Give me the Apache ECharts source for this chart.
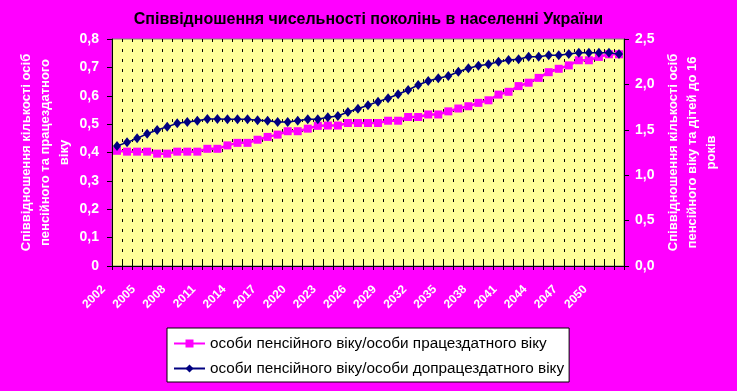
<!DOCTYPE html>
<html>
<head>
<meta charset="utf-8">
<script src="https://cdn.jsdelivr.net/npm/echarts@6/dist/echarts.min.js"></script>
<style>
html,body{margin:0;padding:0;background:#FF00FF;}
#chart{width:737px;height:391px;}
</style>
</head>
<body>
<div id="chart"></div>
<script>
var years = ['2002','2003','2004','2005','2006','2007','2008','2009','2010','2011',
  '2012','2013','2014','2015','2016','2017','2018','2019','2020','2021',
  '2022','2023','2024','2025','2026','2027','2028','2029','2030','2031',
  '2032','2033','2034','2035','2036','2037','2038','2039','2040','2041',
  '2042','2043','2044','2045','2046','2047','2048','2049','2050','2051','2052'];

var pensionToWorking = [0.406,0.403,0.403,0.403,0.396,0.396,0.403,0.403,0.403,0.413,
  0.413,0.425,0.434,0.434,0.445,0.455,0.463,0.475,0.475,0.484,
  0.494,0.495,0.495,0.504,0.504,0.504,0.504,0.512,0.512,0.525,
  0.525,0.534,0.534,0.545,0.555,0.563,0.575,0.584,0.604,0.614,
  0.634,0.646,0.663,0.683,0.695,0.707,0.725,0.725,0.737,0.746,0.746];

var pensionToChildren = [1.322,1.362,1.406,1.457,1.498,1.534,1.571,1.586,1.600,1.619,
  1.619,1.615,1.615,1.615,1.604,1.600,1.586,1.586,1.600,1.615,
  1.615,1.637,1.652,1.696,1.732,1.771,1.810,1.847,1.891,1.938,
  1.993,2.037,2.067,2.093,2.140,2.177,2.206,2.221,2.250,2.269,
  2.276,2.305,2.305,2.320,2.320,2.335,2.349,2.349,2.349,2.349,2.335];

var seriesNames = ['особи пенсійного віку/особи працездатного віку',
                   'особи пенсійного віку/особи допрацездатного віку'];
var chartTitle = 'Співвідношення чисельності поколінь в населенні України';
var leftAxisName = 'Співвідношення кількості осіб\nпенсійного та працездатного\nвіку';
var rightAxisName = 'Співвідношення кількості осіб\nпенсійного віку та дітей до 16\nроків';

var FONT = '"Liberation Sans", Arial, sans-serif';
var chart = echarts.init(document.getElementById('chart'), null, {renderer:'canvas'});

function comma(v, digitsZero){
  if (v === 0 && digitsZero) return '0';
  return v.toFixed(1).replace('.', ',');
}

chart.setOption({
  backgroundColor: '#FF00FF',
  animation: false,
  title: {
    text: chartTitle,
    left: 'center',
    top: 7,
    textStyle: {color:'#000', fontFamily: FONT, fontSize: 16, fontWeight: 'bold'}
  },
  grid: {
    left: 112, right: 113, top: 39, bottom: 125,
    show: true, backgroundColor: '#FFFF99', borderColor: '#808080', borderWidth: 1
  },
  legend: {
    orient: 'vertical',
    left: 167, top: 328,
    backgroundColor: '#FFFFFF',
    borderColor: '#000', borderWidth: 1,
    padding: [8, 5, 6, 6],
    itemWidth: 31, itemHeight: 10, itemGap: 10,
    textStyle: {color:'#000', fontFamily: FONT, fontSize: 15.3},
    data: seriesNames
  },
  xAxis: [{
    type: 'category',
    data: years,
    boundaryGap: true,
    axisLine: {show: true, lineStyle: {color:'#000', width: 1}},
    axisTick: {show: true, interval: 0, length: 4, lineStyle: {color:'#000'}},
    axisLabel: {
      interval: 2, rotate: 45, color: '#FFFFFF', fontFamily: FONT, fontSize: 12, fontWeight: 'bold',
      margin: 8, padding: [0, 19, 0, 0]
    },
    splitLine: {show: true, interval: 0, lineStyle: {color:'#000', width: 1, type: [3, 7]}}
  }, {
    type: 'category',
    data: years,
    position: 'bottom',
    boundaryGap: true,
    axisLine: {show: false},
    axisTick: {show: true, inside: true, interval: 0, length: 6, lineStyle: {color:'#000'}},
    axisLabel: {show: false},
    splitLine: {show: false}
  }],
  yAxis: [{
    type: 'value',
    min: 0, max: 0.8, interval: 0.1,
    position: 'left',
    name: leftAxisName,
    nameLocation: 'middle',
    nameRotate: 90,
    nameGap: 38,
    nameMoveOverlap: false,
    nameTextStyle: {color:'#FFFFFF', fontFamily: FONT, fontSize: 13, fontWeight: 'bold', lineHeight: 19, align: 'center'},
    axisLine: {show: true, lineStyle: {color:'#000', width: 1}},
    axisTick: {show: true, length: 5, lineStyle: {color:'#000'}},
    axisLabel: {color:'#FFFFFF', fontFamily: FONT, fontSize: 14, fontWeight: 'bold', margin: 13,
      formatter: function(v){ return comma(v, true); }},
    splitLine: {show: false}
  }, {
    type: 'value',
    min: 0, max: 2.5, interval: 0.5,
    position: 'right',
    name: rightAxisName,
    nameLocation: 'middle',
    nameRotate: 90,
    nameGap: 40,
    nameMoveOverlap: false,
    nameTextStyle: {color:'#FFFFFF', fontFamily: FONT, fontSize: 13, fontWeight: 'bold', lineHeight: 19, align: 'center'},
    axisLine: {show: true, lineStyle: {color:'#000', width: 1}},
    axisTick: {show: true, length: 5, lineStyle: {color:'#000'}},
    axisLabel: {color:'#FFFFFF', fontFamily: FONT, fontSize: 14, fontWeight: 'bold', margin: 11,
      formatter: function(v){ return comma(v, false); }},
    splitLine: {show: false}
  }],
  series: [{
    name: seriesNames[0],
    type: 'line',
    xAxisIndex: 0,
    yAxisIndex: 0,
    data: pensionToWorking,
    symbol: 'rect',
    symbolSize: 8,
    showAllSymbol: true,
    itemStyle: {color: '#FF00FF'},
    lineStyle: {color: '#FF00FF', width: 2.5},
    z: 3
  }, {
    name: seriesNames[1],
    type: 'line',
    xAxisIndex: 0,
    yAxisIndex: 1,
    data: pensionToChildren,
    symbol: 'diamond',
    symbolSize: [8, 10],
    showAllSymbol: true,
    itemStyle: {color: '#000080'},
    lineStyle: {color: '#000080', width: 1.5},
    z: 4
  }]
});
</script>
</body>
</html>
